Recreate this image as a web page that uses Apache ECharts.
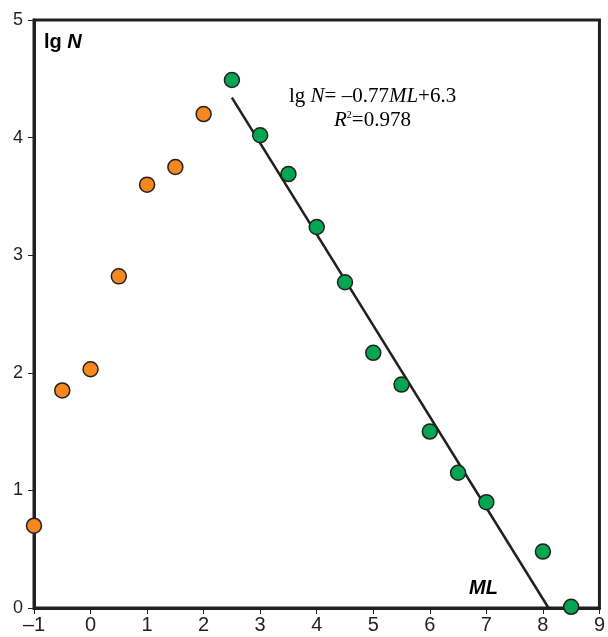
<!DOCTYPE html>
<html><head><meta charset="utf-8">
<script src="https://cdn.jsdelivr.net/npm/echarts@6/dist/echarts.min.js"></script>
<style>html,body{margin:0;padding:0;background:#fff}#c{width:608px;height:637px}</style>
</head><body><div id="c"></div>
<script>
const orangeX = [-1, -0.5, 0, 0.5, 1, 1.5, 2];
const orangeY = [0.70, 1.85, 2.03, 2.82, 3.60, 3.75, 4.20];
const greenX = [2.5, 3, 3.5, 4, 4.5, 5, 5.5, 6, 6.5, 7, 8, 8.5];
const greenY = [4.49, 4.02, 3.69, 3.24, 2.77, 2.17, 1.90, 1.50, 1.15, 0.90, 0.48, 0.01];
const fitX = [2.5, 8.1];
const fitY = [4.34, 0];
const xTicks = [-1, 0, 1, 2, 3, 4, 5, 6, 7, 8, 9];
const yTicks = [0, 1, 2, 3, 4, 5];

const zip = (a, b) => a.map((v, i) => [v, b[i]]);
const chart = echarts.init(document.getElementById('c'));
const dark = '#231f20';
const fmt = v => v < 0 ? '\u2013' + Math.abs(v) : String(v);
chart.setOption({
  animation: false,
  grid: {left: 34, right: 6, top: 20, bottom: 29, show: true, borderColor: dark, borderWidth: 3},
  xAxis: {type: 'value', min: xTicks[0], max: xTicks[xTicks.length-1], interval: 1,
    axisLine: {show: true, onZero: false, lineStyle: {color: dark, width: 3}},
    axisTick: {show: true, length: 6, lineStyle: {color: dark, width: 1}},
    axisLabel: {color: dark, fontSize: 20, fontFamily: 'Liberation Sans, Arial', margin: 7, formatter: fmt},
    splitLine: {show: false}},
  yAxis: {type: 'value', min: yTicks[0], max: yTicks[yTicks.length-1], interval: 1,
    axisLine: {show: true, onZero: false, lineStyle: {color: dark, width: 3}},
    axisTick: {show: true, length: 6, lineStyle: {color: dark, width: 1}},
    axisLabel: {color: dark, fontSize: 18, fontFamily: 'Liberation Sans, Arial', margin: 11, formatter: fmt},
    splitLine: {show: false}},
  series: [
    {type: 'line', data: zip(fitX, fitY), showSymbol: false, symbol: 'none',
      lineStyle: {color: dark, width: 2.5}, z: 2},
    {type: 'scatter', data: zip(orangeX, orangeY), symbolSize: 15,
      itemStyle: {color: '#f7871f', opacity: 1, borderColor: dark, borderWidth: 1.5}, z: 3},
    {type: 'scatter', data: zip(greenX, greenY), symbolSize: 15,
      itemStyle: {color: '#00a651', opacity: 1, borderColor: dark, borderWidth: 1.5}, z: 3}
  ],
  graphic: [
    {type: 'text', left: 44, top: 32, style: {
      text: '{b|lg }{bi|N}', rich: {
        b: {fontSize: 20, fontWeight: 'bold', fontFamily: 'Liberation Sans, Arial', fill: '#000'},
        bi: {fontSize: 20, fontWeight: 'bold', fontStyle: 'italic', fontFamily: 'Liberation Sans, Arial', fill: '#000'}}}},
    {type: 'text', left: 469, top: 578, style: {
      text: 'ML', fontSize: 20, fontWeight: 'bold', fontStyle: 'italic', fontFamily: 'Liberation Sans, Arial', fill: '#000'}},
    {type: 'text', left: 289, top: 86, style: {
      text: '{r|lg }{i|N}{r|= \u20130.77}{i|ML}{r|+6.3}', rich: {
        r: {fontSize: 21, fontFamily: 'Liberation Serif, Times New Roman', fill: '#000'},
        i: {fontSize: 21, fontStyle: 'italic', fontFamily: 'Liberation Serif, Times New Roman', fill: '#000'}}}},
    {type: 'text', left: 334, top: 110, style: {
      text: '{i|R}{s|2}{r|=0.978}', rich: {
        r: {fontSize: 21, fontFamily: 'Liberation Serif, Times New Roman', fill: '#000'},
        i: {fontSize: 21, fontStyle: 'italic', fontFamily: 'Liberation Serif, Times New Roman', fill: '#000'},
        s: {fontSize: 10, fontFamily: 'Liberation Serif, Times New Roman', fill: '#000', verticalAlign: 'top', padding: [0,0,10,0]}}}}
  ]
});
</script></body></html>
